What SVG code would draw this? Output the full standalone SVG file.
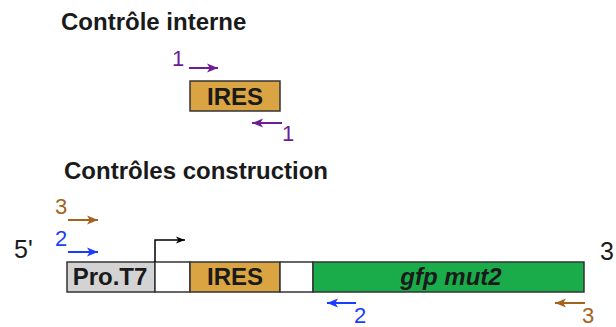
<svg xmlns="http://www.w3.org/2000/svg" width="616" height="327" viewBox="0 0 616 327">
<defs>
<style>
.t{font-family:"Liberation Sans",Arial,sans-serif;}
.h{font-size:24px;font-weight:bold;fill:#1a1a1a;}
.lbl{font-size:24px;font-weight:bold;fill:#1a1a1a;text-anchor:middle;}
.num{font-size:22px;}
.box{stroke:#333;stroke-width:1.5;}
.pu{stroke:#6e1d98;fill:none;stroke-width:2;}
.bl{stroke:#1a3cff;fill:none;stroke-width:2;}
.br{stroke:#a5621c;fill:none;stroke-width:2;}
</style>
<marker id="mp" viewBox="0 0 10 10" refX="10" refY="5" markerWidth="5.5" markerHeight="5.5" orient="auto-start-reverse"><path d="M0,1 L10,5 L0,9 L2.5,5 Z" fill="#6e1d98"/></marker>
<marker id="mb" viewBox="0 0 10 10" refX="10" refY="5" markerWidth="5.5" markerHeight="5.5" orient="auto-start-reverse"><path d="M0,1 L10,5 L0,9 L2.5,5 Z" fill="#1a3cff"/></marker>
<marker id="mr" viewBox="0 0 10 10" refX="10" refY="5" markerWidth="5.5" markerHeight="5.5" orient="auto-start-reverse"><path d="M0,1 L10,5 L0,9 L2.5,5 Z" fill="#a5621c"/></marker>
<marker id="mk" viewBox="0 0 10 10" refX="10" refY="5" markerWidth="6" markerHeight="6" orient="auto"><path d="M0,1 L10,5 L0,9 L2.5,5 Z" fill="#000"/></marker>
</defs>
<rect width="616" height="327" fill="#fff"/>
<text class="t h" x="61" y="30">Contrôle interne</text>
<text class="t h" x="64" y="179">Contrôles construction</text>
<g id="ires-interne">
<rect class="box" x="190" y="81" width="90" height="30" fill="#d9a441"/>
<text class="t lbl" x="235" y="104.5">IRES</text>
</g>
<g id="construct">
<g id="promoter"><rect class="box" x="67" y="262" width="88" height="30" fill="#d3d3d3"/><text class="t lbl" x="110" y="285">Pro.T7</text></g>
<g id="spacer1"><rect class="box" x="155" y="262" width="35" height="30" fill="#fff"/></g>
<g id="ires"><rect class="box" x="190" y="262" width="90" height="30" fill="#d9a441"/><text class="t lbl" x="235" y="285">IRES</text></g>
<g id="spacer2"><rect class="box" x="280" y="262" width="33" height="30" fill="#fff"/></g>
<g id="gfp"><rect class="box" x="313" y="262" width="271" height="30" fill="#1aac4a"/><text class="t lbl" x="451" y="285" font-style="italic">gfp mut2</text></g>
</g>
<text class="t" x="14" y="258" font-size="25" fill="#1a1a1a">5'</text>
<text class="t" x="600" y="260" font-size="25" fill="#1a1a1a">3</text>
<g id="connectors">
<path d="M155,262 V240 H185" stroke="#000" stroke-width="1.5" fill="none" marker-end="url(#mk)"/>
<line class="pu" x1="189" y1="68" x2="218" y2="68" marker-end="url(#mp)"/>
<line class="pu" x1="282" y1="123" x2="252" y2="123" marker-end="url(#mp)"/>
<line class="br" x1="68" y1="220" x2="98" y2="220" marker-end="url(#mr)"/>
<line class="bl" x1="68" y1="252" x2="98" y2="252" marker-end="url(#mb)"/>
<line class="bl" x1="356" y1="303" x2="327" y2="303" marker-end="url(#mb)"/>
<line class="br" x1="585" y1="303" x2="555" y2="303" marker-end="url(#mr)"/>
</g>
<g id="labels">
<text class="t num" x="172" y="66" fill="#6e1d98">1</text>
<text class="t num" x="282" y="141" fill="#6e1d98">1</text>
<text class="t num" x="55" y="214" fill="#a5621c">3</text>
<text class="t num" x="55" y="246" fill="#1a3cff">2</text>
<text class="t num" x="354" y="323" fill="#1a3cff">2</text>
<text class="t num" x="582" y="323" fill="#a5621c">3</text>
</g>
</svg>
